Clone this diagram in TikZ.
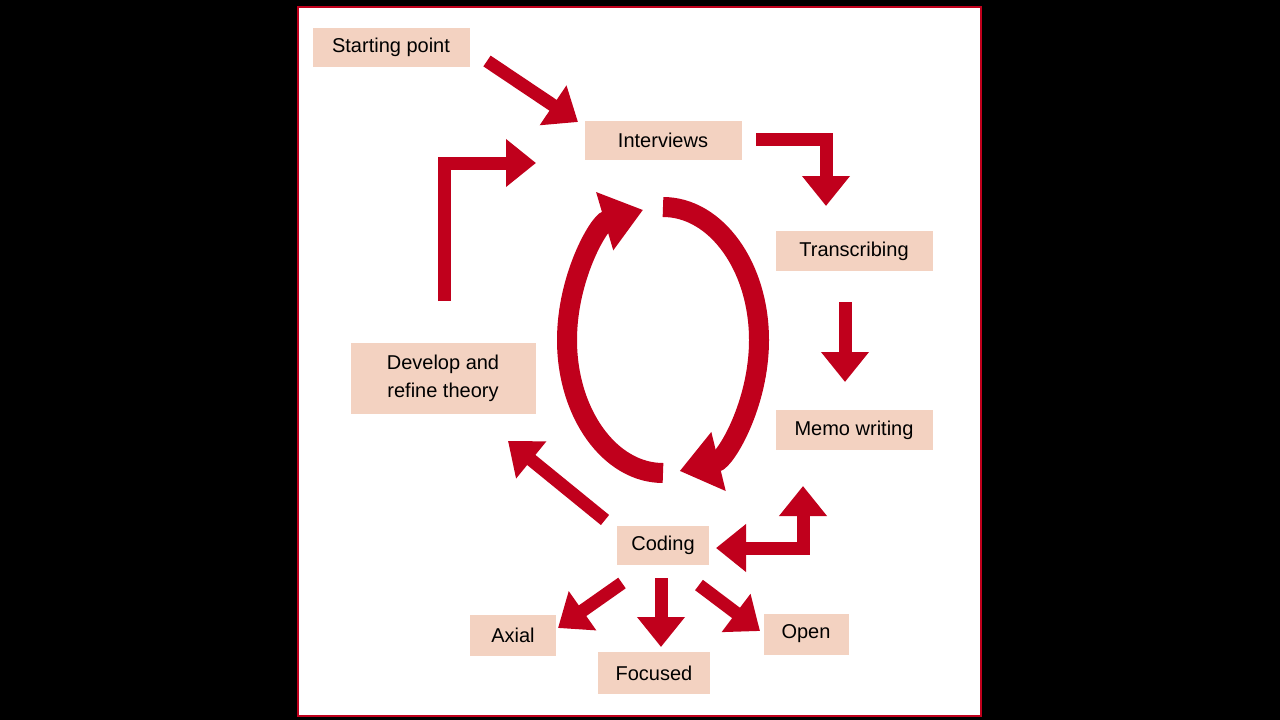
\documentclass[tikz,border=0pt]{standalone}
\usepackage{fontspec}
\setmainfont{Liberation Sans}
\usetikzlibrary{arrows.meta}
\definecolor{boxpink}{HTML}{F3D2C1}
\definecolor{arrred}{HTML}{C0001C}
\begin{document}
\begin{tikzpicture}[x=1pt,y=-1pt,
  box/.style={fill=boxpink,inner sep=0pt,font=\fontsize{20}{28}\selectfont,align=center},
  bigarr/.style={draw=arrred,line width=13pt,-{Triangle[width=46pt,length=30pt]}},
  dblarr/.style={draw=arrred,line width=13pt,{Triangle[width=46pt,length=30pt]}-{Triangle[width=46pt,length=30pt]}}]
\useasboundingbox (0,0) rectangle (1280,720);
\fill[black] (0,0) rectangle (1280,720);
\draw[arrred,line width=2.5pt,fill=white] (298,7) rectangle (981,716);

% boxes
\foreach \nm/\cx/\cy/\w/\h/\txt in {start/391/47/157/39/Starting point, intv/663/140/157/39/Interviews,
    trans/854/251/157/40/Transcribing, memo/854/430/157/40/Memo writing,
    dev/443/378/185/71/{Develop and\\refine theory}, cod/663/545/92/39/Coding,
    axial/513/635/86/41/Axial, foc/654/673/112/42/Focused, open/806/634/85/41/Open}{
  \node[box,minimum width=\w,minimum height=\h] (\nm) at (\cx,\cy) {\txt};
}

% free ends of the connectors
\coordinate (s1) at (487,61);  \coordinate (s2) at (578,122);
\coordinate (i1) at (756,139); \coordinate (i2) at (826,139); \coordinate (i3) at (826,206);
\coordinate (t1) at (845,302); \coordinate (t2) at (845,382);
\coordinate (m1) at (803,486); \coordinate (m2) at (803,548); \coordinate (m3) at (716,548);
\coordinate (c1) at (605,520); \coordinate (c2) at (508,441);
\coordinate (d1) at (444,301); \coordinate (d2) at (444,163); \coordinate (d3) at (536,163);
\coordinate (a1) at (622,583); \coordinate (a2) at (558,628);
\coordinate (f1) at (661,578); \coordinate (f2) at (661,647);
\coordinate (o1) at (699,585); \coordinate (o2) at (760,631);

\draw[bigarr] (s1) -- (s2);
\draw[bigarr] (i1) -- (i2) -- (i3);
\draw[bigarr] (t1) -- (t2);
\draw[dblarr] (m1) -- (m2) -- (m3);
\draw[bigarr] (c1) -- (c2);
\draw[bigarr] (d1) -- (d2) -- (d3);
\draw[bigarr] (a1) -- (a2);
\draw[bigarr] (f1) -- (f2);
\draw[bigarr] (o1) -- (o2);

% the cycle in the middle
\draw[draw=arrred,line width=20pt,-{Triangle[width=58pt,length=40pt]}]
  (663,473) arc[start angle=90,end angle=258,x radius=96,y radius=133];
\draw[draw=arrred,line width=20pt,-{Triangle[width=58pt,length=40pt]}]
  (663,207) arc[start angle=-90,end angle=80,x radius=96,y radius=133];
\end{tikzpicture}
\end{document}
